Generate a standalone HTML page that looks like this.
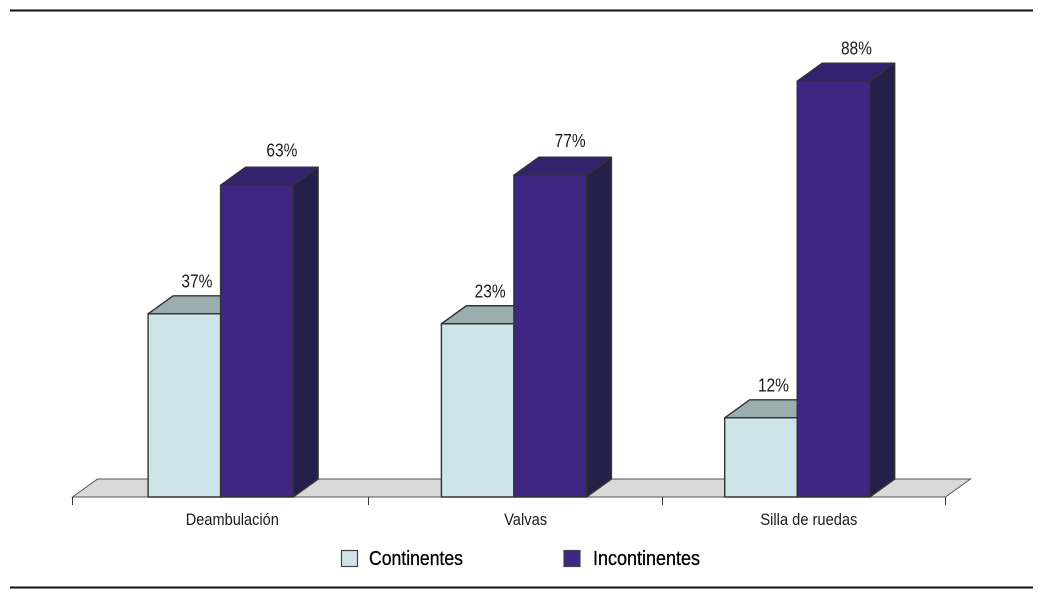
<!DOCTYPE html>
<html lang="es">
<head>
<meta charset="utf-8">
<title>Continentes e incontinentes</title>
<style>
  html, body { margin: 0; padding: 0; background: #fff; }
  svg { display: block; }
  text { font-family: "Liberation Sans Narrow", "Liberation Sans", sans-serif; fill: #1a1a1a; }
</style>
</head>
<body>
<svg id="chart" xmlns="http://www.w3.org/2000/svg" width="1043" height="602" viewBox="0 0 1043 602">
  <rect x="0" y="0" width="1043" height="602" fill="#ffffff"/>
  <line x1="10" y1="10.5" x2="1033" y2="10.5" stroke="#111" stroke-width="2"/>
  <line x1="10" y1="587.5" x2="1033" y2="587.5" stroke="#111" stroke-width="2"/>
  <g id="floor-layer"></g>
  <g id="bars-layer"></g>
  <g id="labels-layer"></g>
  <g id="axis-layer"></g>
  <g>
    <g>
      <rect x="341.5" y="550.5" width="16" height="16" fill="#cde4e8" stroke="#444" stroke-width="1.2"/>
      <text x="369" y="565" font-size="20" textLength="94" lengthAdjust="spacingAndGlyphs" style="fill:#000;stroke:#000;stroke-width:0.3">Continentes</text>
    </g>
    <g>
      <rect x="564" y="550.5" width="16" height="16" fill="#3f2682" stroke="#444" stroke-width="1.2"/>
      <text x="593" y="565" font-size="20" textLength="107" lengthAdjust="spacingAndGlyphs" style="fill:#000;stroke:#000;stroke-width:0.3">Incontinentes</text>
    </g>
  </g>
</svg>
<script>
// Chart data
const categories = ["Deambulación", "Valvas", "Silla de ruedas"];
// Bar heights as drawn in the picture (they differ from the printed labels)
const continentesValues = [37, 35, 16];
const incontinentesValues = [63, 65, 84];
// Values as printed above the bars
const continentesLabels = ["37%", "23%", "12%"];
const incontinentesLabels = ["63%", "77%", "88%"];

// Layout
const NS = "http://www.w3.org/2000/svg";
const baseY = 497;
const unitPx = 4.95;
const depthX = 25;
const depthY = 18;
const barW = 72.5;
const axisLeft = 72.5;
const axisStep = 291;
const groupFirst = 220.6;
const groupStep = 288.3;
const groupNudge = [0, 5, 0];
const tickNudge = [0, 5, 8, 0];
const categoryLabelOffset = 11.7;
const incLabelNudgeX = [3, -2, 1];
const incLabelNudgeY = [0, 0, 2];

function yScale(v) { return baseY - v * unitPx; }
function groupCenter(i) { return groupFirst + i * groupStep + (groupNudge[i] || 0); }
function tickX(i) { return axisLeft + i * axisStep + (tickNudge[i] || 0); }

function make(tag, attrs, parent) {
  const el = document.createElementNS(NS, tag);
  for (const k in attrs) el.setAttribute(k, attrs[k]);
  parent.appendChild(el);
  return el;
}
function pts(list) { return list.map(p => p[0] + "," + p[1]).join(" "); }

const floorLayer = document.getElementById("floor-layer");
const barsLayer = document.getElementById("bars-layer");
const labelsLayer = document.getElementById("labels-layer");
const axisLayer = document.getElementById("axis-layer");

// Floor
const axisRight = tickX(categories.length);
const floorEl = make("polygon", {
  points: pts([[axisLeft, baseY], [axisLeft + depthX, baseY - depthY], [axisRight + depthX, baseY - depthY], [axisRight, baseY]]),
  fill: "#d9d9d9", stroke: "#555", "stroke-width": 1
}, floorLayer);



function drawBar(x, value, colors, barName) {
  const top = yScale(value);
  const group = make("g", {}, barsLayer);
  
  
  const stroke = { stroke: "#333", "stroke-width": 1.4, "stroke-linejoin": "round" };
  make("polygon", Object.assign({
    points: pts([[x, top], [x + depthX, top - depthY], [x + barW + depthX, top - depthY], [x + barW, top]]),
    fill: colors.top }, stroke), group);
  make("polygon", Object.assign({
    points: pts([[x + barW, top], [x + barW + depthX, top - depthY], [x + barW + depthX, baseY - depthY], [x + barW, baseY]]),
    fill: colors.side }, stroke), group);
  make("rect", Object.assign({
    x: x, y: top, width: barW, height: baseY - top,
    fill: colors.front }, stroke), group);
}

function drawValueLabel(cx, y, text, labelName) {
  const el = make("text", { x: cx, y: y, "font-size": 18, "text-anchor": "middle", textLength: 31, lengthAdjust: "spacingAndGlyphs" }, labelsLayer);
  
  
  el.textContent = text;
}

const colorsCont = { front: "#cde4e8", top: "#9aaeb0", side: "#8fa4a8" };
const colorsInc = { front: "#3f2682", top: "#33226e", side: "#25204a" };

categories.forEach(function (cat, i) {
  const c = groupCenter(i);
  drawBar(c - barW, continentesValues[i], colorsCont, "bar-continentes-" + i);
  drawBar(c, incontinentesValues[i], colorsInc, "bar-incontinentes-" + i);
  drawValueLabel(c - barW / 2 + 12.5, yScale(continentesValues[i]) - depthY - 8.5, continentesLabels[i], "value-label-continentes-" + i);
  drawValueLabel(c + barW / 2 + 22 + (incLabelNudgeX[i] || 0), yScale(incontinentesValues[i]) - depthY - 10.5 + (incLabelNudgeY[i] || 0), incontinentesLabels[i], "value-label-incontinentes-" + i);
});

// Axis line is the floor's front edge; ticks and category labels
for (let t = 0; t <= categories.length; t++) {
  const tx = tickX(t);
  const tick = make("line", { x1: tx, y1: baseY, x2: tx, y2: baseY + 8, stroke: "#333", "stroke-width": 1 }, axisLayer);
  
  
}
const labelWidths = { 0: 93, 1: 43, 2: 97 };
categories.forEach(function (cat, i) {
  const label = make("text", {
    x: groupCenter(i) + categoryLabelOffset, y: 525, "font-size": 17, "text-anchor": "middle",
    textLength: labelWidths[i], lengthAdjust: "spacingAndGlyphs"
  }, axisLayer);
  
  
  label.textContent = cat;
});
</script>
</body>
</html>
